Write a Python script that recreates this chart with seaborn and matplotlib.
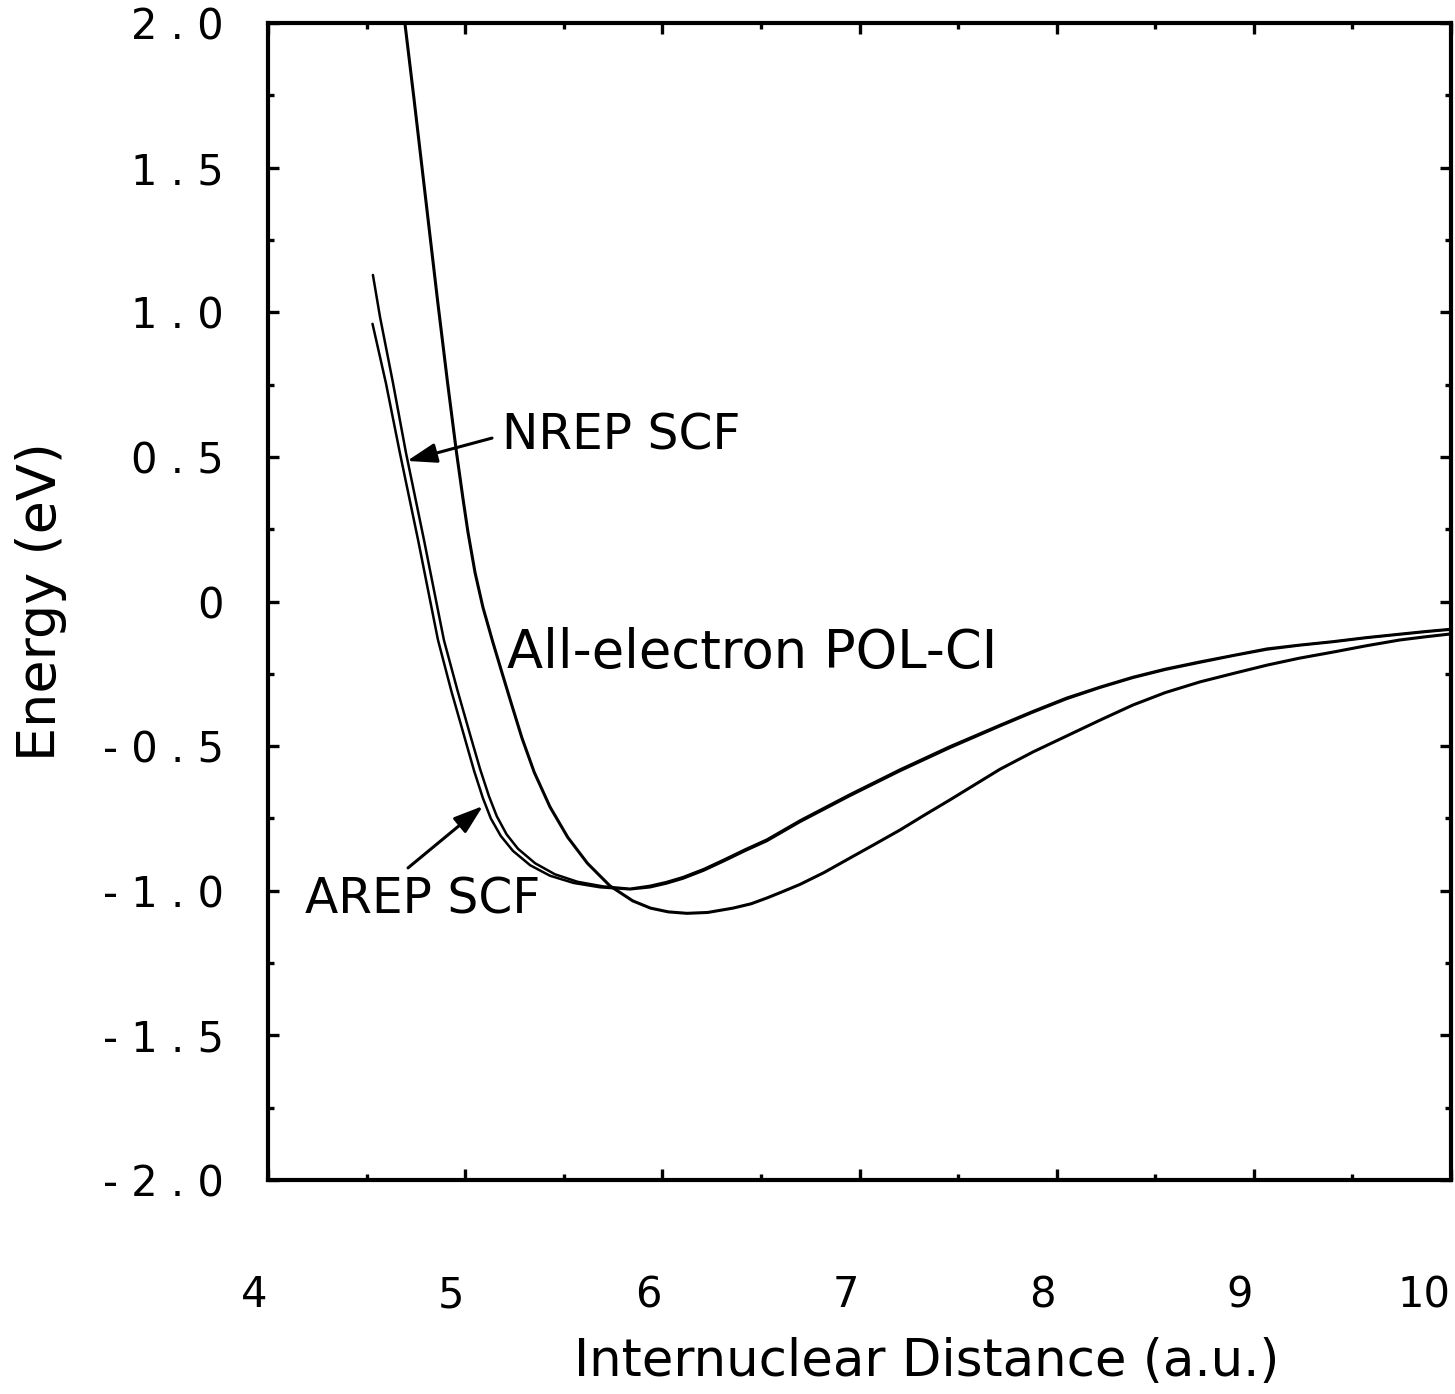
import matplotlib
matplotlib.use("Agg")
import matplotlib.pyplot as plt
import matplotlib.transforms as mtransforms
from matplotlib.ticker import MultipleLocator
import seaborn as sns

# All-electron POL-CI curve
r_polci = [4.68, 4.74, 4.80, 4.86, 4.91, 4.955, 4.99, 5.014, 5.05, 5.09, 5.14,
           5.187, 5.235, 5.288, 5.35, 5.43, 5.52, 5.62, 5.734, 5.85, 5.94, 6.03,
           6.125, 6.23, 6.358, 6.45, 6.53, 6.61, 6.698, 6.82, 6.951, 7.08, 7.205,
           7.33, 7.458, 7.585, 7.712, 7.88, 8.05, 8.22, 8.386, 8.55, 8.726, 8.9,
           9.066, 9.23, 9.40, 9.57, 9.74, 9.87, 10.0]
e_polci = [2.08, 1.74, 1.39, 1.04, 0.76, 0.52, 0.35, 0.24, 0.10, -0.02, -0.14,
           -0.247, -0.355, -0.472, -0.59, -0.71, -0.815, -0.905, -0.983, -1.035, -1.060, -1.073,
           -1.078, -1.075, -1.060, -1.045, -1.025, -1.003, -0.978, -0.937, -0.887, -0.838, -0.790,
           -0.738, -0.686, -0.633, -0.580, -0.520, -0.465, -0.410, -0.358, -0.315, -0.278, -0.248,
           -0.220, -0.196, -0.175, -0.153, -0.133, -0.122, -0.112]

# AREP SCF curve
r_arep = [4.53, 4.598, 4.669, 4.761, 4.862, 4.93, 4.999, 5.045, 5.09, 5.13, 5.18,
          5.242, 5.33, 5.43, 5.55, 5.684, 5.836, 5.937, 6.02, 6.104, 6.21, 6.317,
          6.42, 6.53, 6.698, 6.951, 7.205, 7.458, 7.712, 7.88, 8.05, 8.22, 8.386,
          8.55, 8.726, 8.9, 9.066, 9.23, 9.40, 9.57, 9.74, 9.87, 10.0]
e_arep = [0.96, 0.755, 0.513, 0.213, -0.133, -0.31, -0.475, -0.585, -0.68, -0.75, -0.81,
          -0.862, -0.912, -0.948, -0.973, -0.988, -0.995, -0.988, -0.975, -0.958, -0.930, -0.896,
          -0.862, -0.828, -0.762, -0.672, -0.586, -0.506, -0.431, -0.383, -0.337, -0.298, -0.264,
          -0.236, -0.211, -0.187, -0.166, -0.152, -0.140, -0.126, -0.114, -0.105, -0.097]

# NREP SCF curve
r_nrep = [4.532, 4.568, 4.634, 4.70, 4.791, 4.892, 4.96, 5.029, 5.075, 5.12, 5.16,
          5.21, 5.268, 5.355, 5.455, 5.57, 5.70, 5.836, 5.937, 6.02, 6.104, 6.21,
          6.317, 6.42, 6.53, 6.698, 6.951, 7.205, 7.458, 7.712, 7.88, 8.05, 8.22,
          8.386, 8.55, 8.726, 8.9, 9.066, 9.23, 9.40, 9.57, 9.74, 9.87, 10.0]
e_nrep = [1.129, 0.984, 0.755, 0.513, 0.213, -0.133, -0.305, -0.47, -0.578, -0.672, -0.742,
          -0.805, -0.855, -0.905, -0.943, -0.969, -0.985, -0.993, -0.983, -0.970, -0.953, -0.925,
          -0.891, -0.857, -0.823, -0.757, -0.667, -0.581, -0.501, -0.427, -0.379, -0.333, -0.295,
          -0.261, -0.233, -0.208, -0.185, -0.163, -0.150, -0.138, -0.124, -0.112, -0.103, -0.095]

x_ticks = [4, 5, 6, 7, 8, 9, 10]
x_tick_labels = ["4", "5", "6", "7", "8", "9", "10"]
y_ticks = [2.0, 1.5, 1.0, 0.5, 0.0, -0.5, -1.0, -1.5, -2.0]
y_tick_labels = ["2 . 0", "1 . 5", "1 . 0", "0 . 5", "0",
                 "- 0 . 5", "- 1 . 0", "- 1 . 5", "- 2 . 0"]


def main():
    sns.set_style("ticks")
    plt.rcParams['font.family'] = ['DejaVu Sans']
    plt.rcParams.update({'text.color': 'black', 'axes.labelcolor': 'black',
                         'xtick.color': 'black', 'ytick.color': 'black'})

    fig = plt.figure(figsize=(14.55, 13.94), dpi=100)
    ax = fig.add_axes([0.1842, 0.1535, 0.8131, 0.830])

    sns.lineplot(x=r_polci, y=e_polci, ax=ax, color="black", linewidth=2.2,
                 estimator=None, sort=False)
    sns.lineplot(x=r_arep, y=e_arep, ax=ax, color="black", linewidth=1.8,
                 estimator=None, sort=False)
    sns.lineplot(x=r_nrep, y=e_nrep, ax=ax, color="black", linewidth=1.8,
                 estimator=None, sort=False)

    ax.set_xlim(4, 10)
    ax.set_ylim(-2, 2)
    ax.set_xticks(x_ticks)
    ax.set_xticklabels(x_tick_labels, fontsize=30)
    ax.set_yticks(y_ticks)
    ax.set_yticklabels(y_tick_labels, fontsize=30)
    ax.xaxis.set_minor_locator(MultipleLocator(0.5))
    ax.yaxis.set_minor_locator(MultipleLocator(0.25))

    ax.tick_params(which='both', direction='in', top=True, right=True,
                   color='black', width=2.4)
    ax.tick_params(which='major', length=8)
    ax.tick_params(which='minor', length=4)
    ax.tick_params(axis='x', which='major', pad=68)
    ax.tick_params(axis='y', which='major', pad=32)

    # shift x tick labels a little left, as in the plotter output
    labels = ax.xaxis.get_majorticklabels()
    for i, lab in enumerate(labels):
        dx = -0.27 if i == len(labels) - 1 else -0.14
        offset = mtransforms.ScaledTranslation(dx, 0, fig.dpi_scale_trans)
        lab.set_transform(lab.get_transform() + offset)

    for spine in ax.spines.values():
        spine.set_linewidth(3)
        spine.set_color('black')

    ax.set_xlabel("Internuclear Distance (a.u.)", fontsize=37)
    ax.xaxis.set_label_coords(0.557, -0.136)
    ax.set_ylabel("Energy (eV)", fontsize=39, va='center')
    ax.yaxis.set_label_coords(-0.192, 0.5)

    # curve labels and arrows
    ax.text(5.187, 0.527, "NREP SCF", fontsize=35, ha='left', va='baseline')
    ax.text(5.212, -0.230, "All-electron POL-CI", fontsize=38, ha='left', va='baseline')
    ax.text(4.188, -1.080, "AREP SCF", fontsize=35, ha='left', va='baseline')

    arrow = dict(arrowstyle="-|>,head_length=0.9,head_width=0.3", color='black',
                 lw=2.2, shrinkA=0, shrinkB=0, mutation_scale=20)
    ax.annotate("", xy=(4.705, 0.486), xytext=(5.136, 0.565), arrowprops=arrow)
    ax.annotate("", xy=(5.090, -0.707), xytext=(4.710, -0.921), arrowprops=arrow)

    fig.savefig("out.png", dpi=100)
    plt.close(fig)


if __name__ == "__main__":
    main()
